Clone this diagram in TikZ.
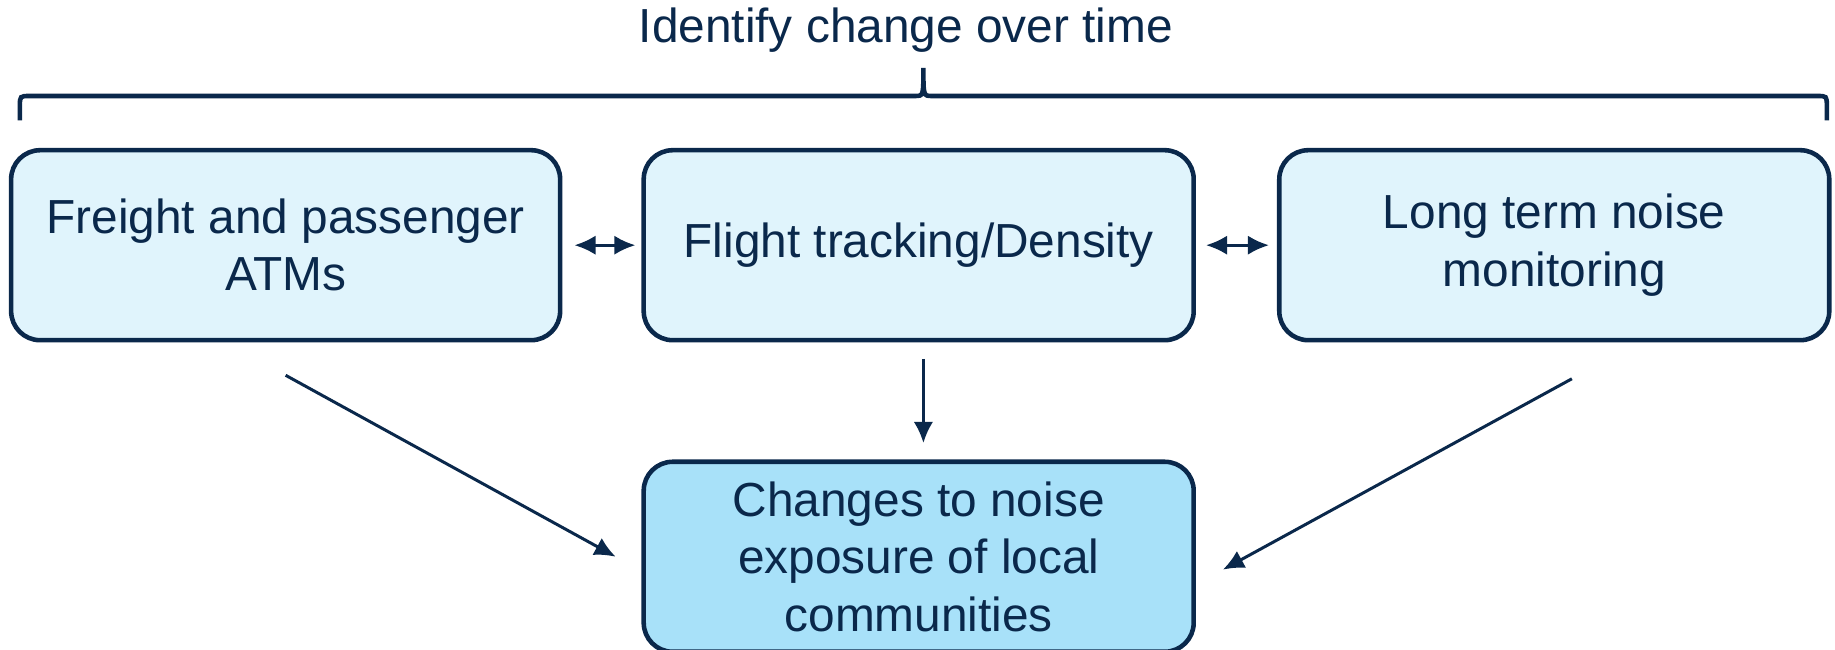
\documentclass[tikz,border=0pt]{standalone}
\usepackage{fontspec}
\setmainfont{Liberation Sans}
\usetikzlibrary{positioning,calc,arrows.meta}
\definecolor{navy}{RGB}{10,40,75}
\definecolor{paleblue}{RGB}{224,244,252}
\definecolor{skyblue}{RGB}{168,225,249}

\begin{document}
\begin{tikzpicture}[>={Latex[length=6pt,width=5.5pt]},
		every node/.style={text=navy,font=\fontsize{13.6}{16.3}\selectfont},
		box/.style={draw=navy,line width=1.3pt,rounded corners=0.29cm,fill=paleblue,align=center,
			minimum width=5.5cm,minimum height=1.9cm,inner sep=0pt},
		link/.style={navy,line width=0.85pt}]
		\useasboundingbox (0,0) rectangle (18.35,-6.5);

		\node[box] (tracking) at (9.187,-2.452) {Flight tracking/Density};
		\node[box,minimum width=5.49cm,left=0.79cm of tracking] (freight) {Freight and passenger\\ATMs};
		\node[box,right=0.81cm of tracking] (monitoring) {Long term noise\\monitoring};
		\node[box,fill=skyblue,below=1.17cm of tracking] (exposure) {Changes to noise\\exposure of local\\communities};

		\node (title) at (9.058,-0.304) {Identify change over time};
		\draw[navy,line width=1.3pt] (0.199,-1.205) -- (0.199,-1.06) .. controls (0.199,-0.96) .. (0.3,-0.96)
			-- (9.15,-0.96) .. controls (9.234,-0.96) .. (9.234,-0.68) .. controls (9.234,-0.96) .. (9.32,-0.96)
			-- (18.17,-0.96) .. controls (18.268,-0.96) .. (18.268,-1.06) -- (18.268,-1.205);

		\draw[link,<->] ($(freight.east)+(0.12,0)$) -- ($(tracking.west)+(-0.06,0)$);
		\draw[link,<->] ($(tracking.east)+(0.1,0)$) -- ($(monitoring.west)+(-0.08,0)$);
		\draw[link,->] ($(tracking.south)+(0.047,-0.164)$) -- ($(exposure.north)+(0.047,0.164)$);
		\draw[link,->] ($(freight.south)+(0,-0.328)$) -- ($(exposure.west)+(-0.257,0)$);
		\draw[link,->] ($(monitoring.south)+(0.176,-0.363)$) -- ($(exposure.east)+(0.269,-0.129)$);

	\end{tikzpicture}
\end{document}
